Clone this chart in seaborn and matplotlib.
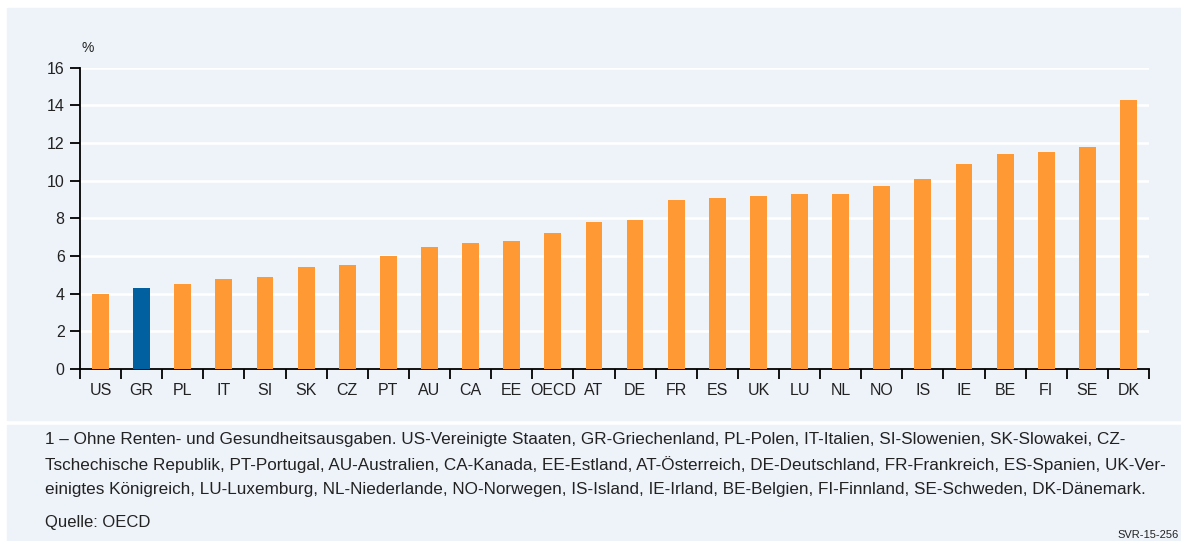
import matplotlib.pyplot as plt
import matplotlib.patches as mpatches
import seaborn as sns
import pandas as pd

countries = ["US", "GR", "PL", "IT", "SI", "SK", "CZ", "PT", "AU", "CA", "EE", "OECD", "AT",
             "DE", "FR", "ES", "UK", "LU", "NL", "NO", "IS", "IE", "BE", "FI", "SE", "DK"]
values = [4.0, 4.3, 4.5, 4.8, 4.9, 5.4, 5.5, 6.0, 6.5, 6.7, 6.8, 7.2, 7.8,
          7.9, 9.0, 9.1, 9.2, 9.3, 9.3, 9.7, 10.1, 10.9, 11.4, 11.5, 11.8, 14.3]
highlight = "GR"

footnote = ("1 – Ohne Renten- und Gesundheitsausgaben. US-Vereinigte Staaten, GR-Griechenland, PL-Polen, IT-Italien, SI-Slowenien, SK-Slowakei, CZ-\n"
            "Tschechische Republik, PT-Portugal, AU-Australien, CA-Kanada, EE-Estland, AT-Österreich, DE-Deutschland, FR-Frankreich, ES-Spanien, UK-Ver-\n"
            "einigtes Königreich, LU-Luxemburg, NL-Niederlande, NO-Norwegen, IS-Island, IE-Irland, BE-Belgien, FI-Finnland, SE-Schweden, DK-Dänemark.")
source = "Quelle: OECD"
code = "SVR-15-256"

orange = "#FF9933"
blue = "#0060A0"
panel_bg = "#EEF3FA"

df = pd.DataFrame({"land": countries, "wert": values})
df["gruppe"] = ["hl" if c == highlight else "other" for c in countries]

sns.set_style("white")
plt.rcParams["font.family"] = ["Liberation Sans", "DejaVu Sans"]

fig = plt.figure(figsize=(11.81, 5.41), dpi=100)
W, H = 1181, 541
# background panels (drawn behind the axes)
fig.patches.append(mpatches.Rectangle((7 / W, 1 - 420 / H), 1, 412 / H, transform=fig.transFigure,
                                      color=panel_bg, zorder=-5))
fig.patches.append(mpatches.Rectangle((7 / W, 0), 1, 1 - 425 / H, transform=fig.transFigure,
                                      color=panel_bg, zorder=-5))

ax = fig.add_axes([80 / W, 1 - 369 / H, (1149 - 80) / W, (369 - 67.7) / H])
ax.set_zorder(2)
ax.set_facecolor(panel_bg)
sns.barplot(data=df, x="land", y="wert", hue="gruppe", palette={"hl": blue, "other": orange},
            width=0.41, dodge=False, legend=False, ax=ax, saturation=1, zorder=3,
            linewidth=0, edgecolor="none")

ax.set_ylim(0, 16)
ax.set_xlim(-0.5, len(countries) - 0.5)
ax.set_yticks(range(0, 17, 2))
ax.yaxis.grid(True, color="white", linewidth=1.8, zorder=0)
ax.set_axisbelow(True)
for s in ["top", "right"]:
    ax.spines[s].set_visible(False)
ax.spines["left"].set_color("black")
ax.spines["bottom"].set_color("black")
ax.spines["left"].set_linewidth(1.3)
ax.spines["bottom"].set_linewidth(1.3)

ax.set_xticks(range(len(countries)))
ax.set_xticklabels(countries)
ax.set_xticks([i - 0.5 for i in range(len(countries) + 1)], minor=True)
ax.tick_params(axis="x", which="major", bottom=False, length=0, pad=10, labelsize=11.5, colors="#222222")
ax.tick_params(axis="x", which="minor", bottom=True, length=7, width=1.3, color="black", direction="out")
ax.tick_params(axis="y", which="major", left=True, length=7, width=1.3, color="black", direction="out",
               labelsize=11.5, labelcolor="#222222", pad=4)
ax.set_xlabel("")
ax.set_ylabel("")

fig.text(81 / W, 1 - 48 / H, "%", fontsize=10, color="#222222", ha="left", va="center")

fig.text(45 / W, 1 - 432 / H, footnote, fontsize=12.3, color="#222222", ha="left", va="top",
         linespacing=1.68)
fig.text(45 / W, 1 - 523 / H, source, fontsize=12, color="#222222", ha="left", va="center")
fig.text(1179 / W, 1 - 535 / H, code, fontsize=8, color="#222222", ha="right", va="center")

fig.savefig("out.png", dpi=100, facecolor="white")
